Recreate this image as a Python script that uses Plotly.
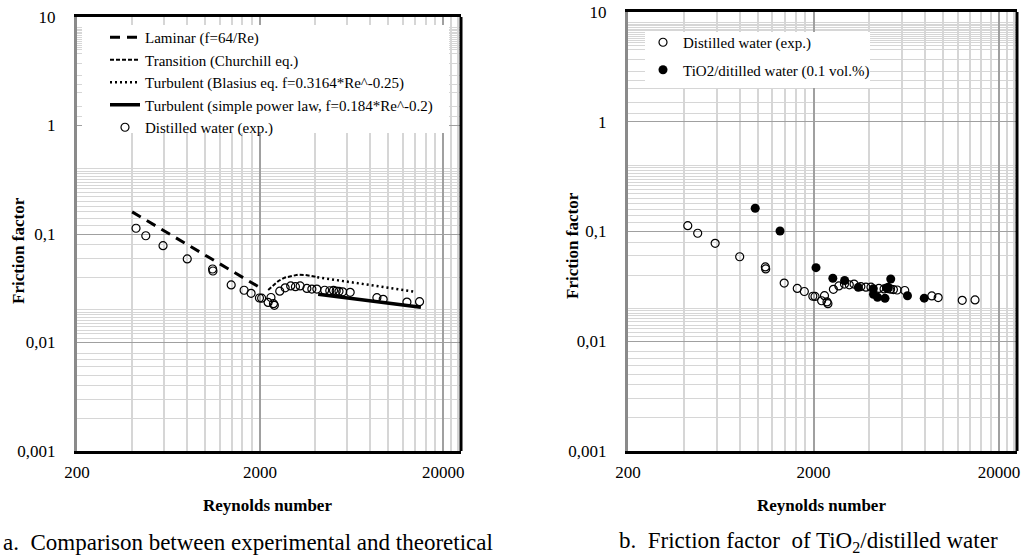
import plotly.graph_objects as go

# ---------------- data ----------------
water_re = [420, 475, 590, 800, 1100, 1105, 1390, 1635, 1785, 1983, 2038, 2212, 2292,
            2365, 2392, 2560, 2740, 2937, 3118, 3308, 3600, 3833, 4081, 4503, 4802,
            5032, 5206, 5392, 5648, 6207, 8683, 9398, 12667, 14848]
water_f = [0.113, 0.0964, 0.078, 0.0589, 0.0476, 0.0456, 0.0339, 0.0303, 0.0284, 0.0257,
           0.0256, 0.0234, 0.0260, 0.0228, 0.0220, 0.0297, 0.0319, 0.0332, 0.0327, 0.0332,
           0.0315, 0.0311, 0.0311, 0.0303, 0.0300, 0.0302, 0.0298, 0.0296, 0.0293, 0.0290,
           0.0259, 0.0250, 0.0236, 0.0238]

tio2_re = [970, 1320, 2063, 2542, 2943, 3487, 4202, 4210, 4427, 4858, 4950, 5060, 5216, 6421, 7906]
tio2_f = [0.163, 0.101, 0.0468, 0.0375, 0.0358, 0.0310, 0.0301, 0.0268, 0.0252, 0.0246,
          0.0306, 0.0310, 0.0369, 0.0260, 0.0247]

laminar_re = [400, 2000]
laminar_f = [0.160, 0.032]

trans_re = [2214, 2368, 2518, 2718, 2988, 3234, 3532, 3836, 4100]
trans_f = [0.0305, 0.0339, 0.0369, 0.0396, 0.0413, 0.0422, 0.0419, 0.0410, 0.0401]

blasius_re = [4100, 14100]
blasius_f = [0.0400, 0.0293]

power_re = [4150, 15100]
power_f = [0.0278, 0.0211]

x_ticks = [200, 2000, 20000]
x_ticktext = ["200", "2000", "20000"]
y_ticks = [0.001, 0.01, 0.1, 1, 10]
y_ticktext = ["0,001", "0,01", "0,1", "1", "10"]

x_minor = [400, 600, 800, 1000, 1200, 1400, 1600, 1800,
           4000, 6000, 8000, 10000, 12000, 14000, 16000, 18000, 22000, 24000]
y_minor = ([0.002, 0.003, 0.004, 0.005, 0.006, 0.007, 0.008]
           + [0.011, 0.012, 0.013, 0.014, 0.015, 0.016, 0.017, 0.018, 0.019, 0.020]
           + [0.04, 0.06, 0.08]
           + [0.12, 0.14, 0.16, 0.18, 0.20, 0.22, 0.24, 0.26, 0.28, 0.30, 0.32, 0.34, 0.36, 0.38, 0.40]
           + [1.2, 1.5, 2.0, 2.4, 2.9, 3.7, 4.6, 5.0, 5.25, 5.5, 5.75, 6.0, 6.25, 6.5,
              6.75, 7.0, 7.25, 7.5, 7.75, 8.0])

legend_left = ["Laminar (f=64/Re)", "Transition (Churchill eq.)",
               "Turbulent (Blasius eq. f=0.3164*Re^-0.25)",
               "Turbulent (simple power law, f=0.184*Re^-0.2)",
               "Distilled water (exp.)"]
legend_right = ["Distilled water (exp.)", "TiO2/ditilled water (0.1 vol.%)"]

# ---------------- figure ----------------
W, H = 1023, 556
FONT = "Liberation Serif"

fig = go.Figure()

fig.add_trace(go.Scatter(x=laminar_re, y=laminar_f, mode="lines", name=legend_left[0],
                         line=dict(color="black", width=3, dash="10px,7px"),
                         xaxis="x", yaxis="y", legend="legend", legendgroup="a"))
fig.add_trace(go.Scatter(x=trans_re, y=trans_f, mode="lines", name=legend_left[1],
                         line=dict(color="black", width=2, dash="4px,2px"),
                         xaxis="x", yaxis="y", legend="legend", legendgroup="b"))
fig.add_trace(go.Scatter(x=blasius_re, y=blasius_f, mode="lines", name=legend_left[2],
                         line=dict(color="black", width=2.5, dash="2px,3px"),
                         xaxis="x", yaxis="y", legend="legend", legendgroup="c"))
fig.add_trace(go.Scatter(x=power_re, y=power_f, mode="lines", name=legend_left[3],
                         line=dict(color="black", width=3.5),
                         xaxis="x", yaxis="y", legend="legend", legendgroup="d"))
fig.add_trace(go.Scatter(x=water_re, y=water_f, mode="markers", name=legend_left[4],
                         marker=dict(symbol="circle-open", size=8, color="black",
                                     line=dict(width=1.2, color="black")),
                         xaxis="x", yaxis="y", legend="legend", legendgroup="e"))

fig.add_trace(go.Scatter(x=water_re, y=water_f, mode="markers", name=legend_right[0],
                         marker=dict(symbol="circle-open", size=8, color="black",
                                     line=dict(width=1.2, color="black")),
                         xaxis="x2", yaxis="y2", legend="legend2", legendgroup="f"))
fig.add_trace(go.Scatter(x=tio2_re, y=tio2_f, mode="markers", name=legend_right[1],
                         marker=dict(symbol="circle", size=9, color="black"),
                         xaxis="x2", yaxis="y2", legend="legend2", legendgroup="g"))


def xaxis_cfg(domain, anchor):
    return dict(type="log", range=[2.30103, 4.398], domain=domain, anchor=anchor,
                automargin=False,
                tickvals=x_ticks, ticktext=x_ticktext, ticks="", ticklabelstandoff=4,
                tickfont=dict(family=FONT, size=17, color="black"),
                showgrid=True, gridcolor="#a0a0a0", gridwidth=1.5,
                showline=True, linecolor="black", linewidth=2.5, mirror=True,
                zeroline=False,
                minor=dict(tickvals=x_minor, showgrid=True, gridcolor="#d6d6d6",
                           gridwidth=1.5, ticks=""))


def yaxis_cfg(domain, anchor):
    return dict(type="log", range=[-3, 1], domain=domain, anchor=anchor,
                automargin=False,
                tickvals=y_ticks, ticktext=y_ticktext, ticks="", ticklabelstandoff=15,
                tickfont=dict(family=FONT, size=17, color="black"),
                showgrid=True, gridcolor="#a0a0a0", gridwidth=1.2,
                showline=True, linecolor="#8a8a8a", linewidth=3, mirror=False,
                zeroline=False,
                minor=dict(tickvals=y_minor, showgrid=True, gridcolor="#d6d6d6",
                           gridwidth=1, ticks=""))


fig.update_layout(
    template="none",
    width=W, height=H,
    margin=dict(l=0, r=0, t=0, b=0, autoexpand=False),
    paper_bgcolor="white", plot_bgcolor="white",
    font=dict(family=FONT, color="black"),
    xaxis=xaxis_cfg([77 / W, 461 / W], "y"),
    yaxis=yaxis_cfg([1 - 451 / H, 1 - 17 / H], "x"),
    xaxis2=xaxis_cfg([628 / W, 1017 / W], "y2"),
    yaxis2=yaxis_cfg([1 - 451 / H, 1 - 12 / H], "x2"),
    legend=dict(x=105 / W, y=1 - 21 / H, xanchor="left", yanchor="top",
                bgcolor="rgba(255,255,255,0)", borderwidth=0, font=dict(family=FONT, size=15),
                traceorder="grouped", tracegroupgap=0, itemwidth=30),
    legend2=dict(x=643 / W, y=1 - 26 / H, xanchor="left", yanchor="top",
                 bgcolor="rgba(255,255,255,0)", borderwidth=0, font=dict(family=FONT, size=15),
                 traceorder="grouped", tracegroupgap=5, itemwidth=30),
    showlegend=True,
)

# white legend panels (cover the gridlines behind the legends; no data lies there)
for x0, x1, y0, y1 in ((82, 449, 25, 133), (645, 870, 32, 88)):
    fig.add_shape(type="rect", xref="paper", yref="paper", layer="above",
                  x0=x0 / W, x1=x1 / W, y0=1 - y1 / H, y1=1 - y0 / H,
                  fillcolor="white", line=dict(width=0))

# right frame border (black) for both plots
for xr, yr in (("x", "y"), ("x2", "y2")):
    fig.add_shape(type="line", xref=f"{xr} domain", yref=f"{yr} domain",
                  x0=1, x1=1, y0=0, y1=1, line=dict(color="black", width=3))

# axis titles and captions
ann = [
    dict(text="<b>Friction factor</b>", x=18 / W, y=1 - 251 / H, textangle=-90, size=17),
    dict(text="<b>Reynolds number</b>", x=267 / W, y=1 - 505 / H, textangle=0, size=17),
    dict(text="<b>Friction factor</b>", x=572 / W, y=1 - 246 / H, textangle=-90, size=17),
    dict(text="<b>Reynolds number</b>", x=821 / W, y=1 - 505 / H, textangle=0, size=17),
]
for a in ann:
    fig.add_annotation(text=a["text"], x=a["x"], y=a["y"], xref="paper", yref="paper",
                       showarrow=False, textangle=a["textangle"], xanchor="center",
                       yanchor="middle", font=dict(family=FONT, size=a["size"], color="black"))

fig.add_annotation(text="a.\u00a0 Comparison between experimental and theoretical",
                   x=1 / W, y=1 - 542 / H, xref="paper", yref="paper", showarrow=False,
                   xanchor="left", yanchor="middle",
                   font=dict(family=FONT, size=23, color="black"))
fig.add_annotation(text="b.\u00a0 Friction factor\u00a0 of TiO<sub>2</sub>/distilled water",
                   x=617 / W, y=1 - 542 / H, xref="paper", yref="paper", showarrow=False,
                   xanchor="left", yanchor="middle",
                   font=dict(family=FONT, size=23, color="black"))

fig.write_html("out.html", config={"displayModeBar": False},
               post_script="document.body.style.margin='0';document.body.style.overflow='hidden';")
